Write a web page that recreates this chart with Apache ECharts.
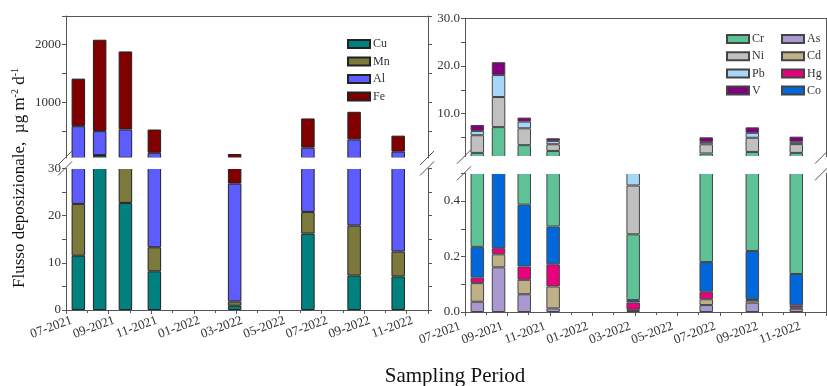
<!DOCTYPE html>
<html>
<head>
<meta charset="utf-8">
<script src="https://cdn.jsdelivr.net/npm/echarts@6/dist/echarts.min.js"></script>
<style>
  html, body { margin: 0; padding: 0; background: #fff; }
  #chart { width: 827px; height: 386px; }
</style>
</head>
<body>
<div id="chart"></div>
<script>
// x = months since 07-2021
const monthLabels = ['07-2021', '08-2021', '09-2021', '10-2021', '11-2021', '12-2021',
  '01-2022', '02-2022', '03-2022', '04-2022', '05-2022', '06-2022',
  '07-2022', '08-2022', '09-2022', '10-2022', '11-2022', '12-2022'];
const samplePos = [0.58, 1.58, 2.79, 4.15, 7.92, 11.36, 13.53, 15.6];

// left panel (major elements)
const cu = [11.5, 70, 22.7, 8.2, 0.9, 16.2, 7.3, 7.1];
const mn = [11, 10, 10, 5.1, 0.9, 4.6, 10.6, 5.3];
const al = [561, 417, 494, 107, 25, 189, 336, 128];
const fe = [827, 1590, 1357, 405, 73, 508, 480, 278];

// right panel (trace elements)
const asv = [0.037, 0.161, 0.064, 0.013, 0.004, 0.025, 0.034, 0.012];
const cd = [0.067, 0.047, 0.052, 0.079, 0.004, 0.021, 0.009, 0.004];
const hg = [0.020, 0.022, 0.048, 0.080, 0.026, 0.027, 0.003, 0.008];
const co = [0.111, 0.60, 0.223, 0.136, 0.009, 0.107, 0.174, 0.113];
const cr = [1.56, 6.37, 3.03, 1.90, 0.237, 1.49, 1.78, 1.66];
const ni = [3.70, 6.30, 3.53, 1.40, 0.176, 1.93, 2.97, 1.84];
const pb = [0.90, 4.60, 1.40, 0.70, 0.15, 0.46, 1.03, 0.48];
const vv = [1.25, 2.70, 0.85, 0.55, 0.02, 1.00, 1.15, 1.08];

const leftTicksUp = [500, 1000, 1500, 2000, 2500];
const leftLabelsUp = [1000, 2000];
const leftTicksLo = [0, 5, 10, 15, 20, 25, 30];
const leftLabelsLo = [0, 10, 20, 30];
const rightTicksUp = [5, 10, 15, 20, 25, 30];
const rightLabelsUp = [10, 20, 30];
const rightTicksLo = [0, 0.1, 0.2, 0.3, 0.4, 0.5];
const rightLabelsLo = [0, 0.2, 0.4];

const FONT = 'Liberation Serif';
const axisColor = '#555';

const leftElems = [
  ['Cu', cu, '#00807f'],
  ['Mn', mn, '#7b7a3c'],
  ['Al', al, '#5c5cff'],
  ['Fe', fe, '#800000']
];
const rightElems = [
  ['As', asv, '#a999d0'],
  ['Cd', cd, '#bfb088'],
  ['Hg', hg, '#e8007c'],
  ['Co', co, '#0068da'],
  ['Cr', cr, '#5fc296'],
  ['Ni', ni, '#c0c0c0'],
  ['Pb', pb, '#a8d6f8'],
  ['V', vv, '#800080']
];

function bars(list, grid, stack, border) {
  return list.map(([name, vals, color]) => ({
    name: name,
    type: 'bar',
    stack: stack,
    xAxisIndex: grid,
    yAxisIndex: grid * 2,
    barWidth: 13.5,
    clip: true,
    encode: { x: 1, y: 0 },
    itemStyle: { color: color, borderColor: border, borderWidth: 1 },
    data: vals.map((v, i) => [v, samplePos[i]])
  }));
}

function topX(grid) {
  return {
    gridIndex: grid, type: 'value', min: 0, max: 17, position: 'top',
    axisLine: { show: true, lineStyle: { color: axisColor } },
    axisTick: { show: false }, axisLabel: { show: false }, splitLine: { show: false }
  };
}
function bottomX(grid, pad) {
  return {
    gridIndex: grid, type: 'value', min: 0, max: 17, interval: 2, position: 'bottom',
    axisLine: { show: true, onZero: false, lineStyle: { color: axisColor } },
    axisTick: { show: true, length: 4, lineStyle: { color: axisColor } },
    minorTick: { show: true, splitNumber: 2, length: 3, lineStyle: { color: axisColor } },
    splitLine: { show: false },
    axisLabel: {
      rotate: 20, margin: 12, color: '#333', fontFamily: FONT, fontSize: 13,
      padding: pad, showMaxLabel: false,
      formatter: v => (v % 2 === 0 && v <= 16) ? monthLabels[v] : ''
    }
  };
}
function yAx(grid, pos, min, max, ticks, labels, fmt) {
  return {
    gridIndex: grid, type: 'value', min: min, max: max, position: pos,
    axisLine: { show: true, onZero: false, lineStyle: { color: axisColor } },
    axisTick: { show: true, length: 4, customValues: ticks, lineStyle: { color: axisColor } },
    splitLine: { show: false },
    axisLabel: {
      show: pos === 'left', customValues: labels, margin: 5,
      color: '#333', fontFamily: FONT, fontSize: 13, formatter: fmt
    }
  };
}

// white band hiding the cut edges of the bars, then the // marks
function gapCover(x, w, yTop, yBot) {
  return {
    type: 'rect', z: 100,
    shape: { x: x, y: yTop - 0.6, width: w, height: yBot - yTop + 1.2 },
    style: { fill: '#fff' }
  };
}
function breakMarks(x, yTop, yBot) {
  return [yTop, yBot].map(y => ({
    type: 'line', z: 101,
    shape: { x1: x - 8, y1: y + 7, x2: x + 6, y2: y - 7 },
    style: { stroke: '#555', lineWidth: 1 }
  }));
}

const chart = echarts.init(document.getElementById('chart'), null, { renderer: 'canvas' });

const legendText = { fontFamily: FONT, fontSize: 12, color: '#333', padding: [0, 0, 0, -2] };

const option = {
  backgroundColor: '#fff',
  animation: false,
  textStyle: { fontFamily: FONT },
  grid: [
    { left: 66, top: 16, width: 362, height: 142 },
    { left: 66, top: 168.5, width: 362, height: 141.5 },
    { left: 465, top: 18.3, width: 361, height: 138.4 },
    { left: 465, top: 173.3, width: 361, height: 138.7 }
  ],
  xAxis: [topX(0), bottomX(1, [0, -6, 0, 0]), topX(2), bottomX(3, [0, 5, 0, 0])],
  yAxis: [
    yAx(0, 'left', 30, 2500, leftTicksUp, leftLabelsUp, v => String(v)),
    yAx(0, 'right', 30, 2500, leftTicksUp, leftLabelsUp),
    yAx(1, 'left', 0, 30, leftTicksLo, leftLabelsLo, v => String(v)),
    yAx(1, 'right', 0, 30, leftTicksLo, leftLabelsLo),
    yAx(2, 'left', 1, 30, rightTicksUp, rightLabelsUp, v => v.toFixed(1)),
    yAx(2, 'right', 1, 30, rightTicksUp, rightLabelsUp),
    yAx(3, 'left', 0, 0.5, rightTicksLo, rightLabelsLo, v => v.toFixed(1)),
    yAx(3, 'right', 0, 0.5, rightTicksLo, rightLabelsLo)
  ],
  legend: [
    {
      data: ['Cu', 'Mn', 'Al', 'Fe'], orient: 'vertical', left: 342, top: 33,
      itemWidth: 22, itemHeight: 8, itemGap: 5.5, icon: 'rect', textStyle: legendText
    },
    {
      data: ['Cr', 'Ni', 'Pb', 'V'], orient: 'vertical', left: 721, top: 28,
      itemWidth: 22, itemHeight: 8, itemGap: 5.2, icon: 'rect', textStyle: legendText
    },
    {
      data: ['As', 'Cd', 'Hg', 'Co'], orient: 'vertical', left: 776, top: 28,
      itemWidth: 22, itemHeight: 8, itemGap: 5.2, icon: 'rect', textStyle: legendText
    }
  ],
  series: [].concat(
    bars(leftElems, 0, 'Lup', '#222'),
    bars(leftElems, 1, 'Llo', '#222'),
    bars(rightElems, 2, 'Rup', '#444'),
    bars(rightElems, 3, 'Rlo', '#444')
  ),
  graphic: [].concat(
    [gapCover(67, 360, 158, 168.5), gapCover(466, 359, 156.7, 173.3)],
    breakMarks(66, 158, 168.5),
    breakMarks(428, 158, 168.5),
    breakMarks(465, 156.7, 173.3),
    breakMarks(823, 156.7, 173.3),
    [
      {
        type: 'text', x: 20, y: 178, rotation: Math.PI / 2,
        style: {
          text: '{a|Flusso deposizionale,  µg m}{s|-2}{a| d}{s|-1}',
          align: 'center', verticalAlign: 'middle',
          rich: {
            a: { fontFamily: FONT, fontSize: 17, fill: '#111' },
            s: { fontFamily: FONT, fontSize: 10, fill: '#111', verticalAlign: 'top', lineHeight: 20 }
          }
        }
      },
      {
        type: 'text', x: 455, y: 376,
        style: {
          text: 'Sampling Period', fontFamily: FONT, fontSize: 21, fill: '#111',
          align: 'center', verticalAlign: 'middle'
        }
      }
    ]
  )
};

chart.setOption(option);
</script>
</body>
</html>
